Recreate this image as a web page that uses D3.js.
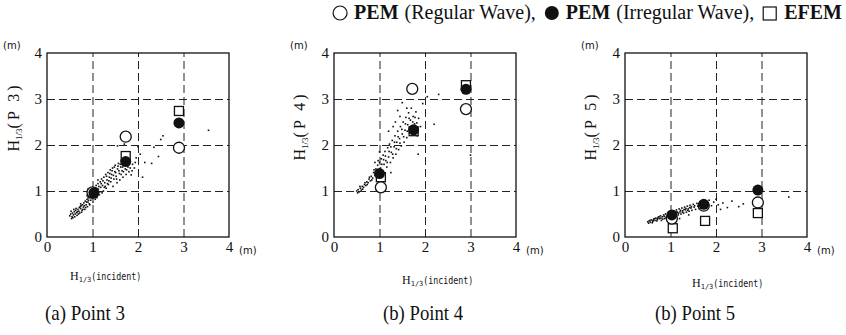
<!DOCTYPE html>
<html><head><meta charset="utf-8">
<script src="https://cdn.jsdelivr.net/npm/d3@7"></script>
<style>body{margin:0;background:#fff}svg{display:block}</style>
</head><body>
<svg id="c" width="846" height="335"></svg>
<script>
// ---------- data ----------
const tickValues = [0, 1, 2, 3, 4];
const tickLabels = ["0", "1", "2", "3", "4"];
const gridValues = [1, 2, 3];
const pointNames = ["P 3", "P 4", "P 5"];
const captions = ["(a) Point 3", "(b) Point 4", "(b) Point 5"];

// PEM regular wave (open circles)
const regularP3 = [[1.00, 0.97], [1.73, 2.18], [2.90, 1.94]];
const regularP4 = [[1.03, 1.08], [1.72, 3.22], [2.90, 2.78]];
const regularP5 = [[1.03, 0.40], [1.73, 0.68], [2.92, 0.75]];
// PEM irregular wave (filled circles)
const irregularP3 = [[1.03, 0.96], [1.73, 1.64], [2.90, 2.48]];
const irregularP4 = [[1.00, 1.38], [1.75, 2.33], [2.90, 3.21]];
const irregularP5 = [[1.03, 0.48], [1.73, 0.71], [2.92, 1.02]];
// EFEM (open squares)
const efemP3 = [[1.00, 0.95], [1.73, 1.76], [2.90, 2.74]];
const efemP4 = [[1.03, 1.30], [1.75, 2.30], [2.90, 3.30]];
const efemP5 = [[1.05, 0.19], [1.76, 0.35], [2.92, 0.52]];

// measured (individual irregular waves), small dots
const measuredP3 = [[0.50,0.46],[0.52,0.50],[0.55,0.44],[0.56,0.52],[0.58,0.48],[0.60,0.55],[0.62,0.50],[0.63,0.58],[0.65,0.53],[0.66,0.47],[0.68,0.60],[0.70,0.56],[0.71,0.64],[0.72,0.52],[0.74,0.62],[0.75,0.68],[0.77,0.58],[0.78,0.70],[0.80,0.65],[0.81,0.74],[0.83,0.60],[0.84,0.78],[0.86,0.70],[0.88,0.82],[0.89,0.66],[0.90,0.76],[0.92,0.86],[0.93,0.72],[0.95,0.90],[0.96,0.80],[0.98,0.94],[1.00,0.84],[1.02,1.00],[1.04,0.88],[1.05,1.06],[1.07,0.94],[1.08,1.12],[1.10,0.98],[1.12,1.16],[1.13,1.04],[1.15,0.92],[1.17,1.20],[1.18,1.08],[1.20,1.26],[1.22,1.12],[1.24,1.00],[1.25,1.30],[1.27,1.18],[1.29,1.36],[1.30,1.06],[1.32,1.24],[1.34,1.40],[1.35,1.14],[1.37,1.30],[1.39,1.46],[1.40,1.20],[1.42,1.36],[1.44,1.50],[1.45,1.10],[1.47,1.26],[1.49,1.42],[1.50,1.56],[1.52,1.32],[1.54,1.18],[1.55,1.48],[1.57,1.60],[1.59,1.38],[1.60,1.24],[1.62,1.52],[1.64,1.66],[1.65,1.44],[1.67,1.30],[1.69,1.58],[1.70,1.72],[1.72,1.48],[1.74,1.36],[1.76,1.62],[1.78,1.52],[1.80,1.42],[1.82,1.68],[1.85,1.35],[1.88,1.58],[1.92,1.50],[1.96,1.72],[2.00,1.96],[2.05,1.80],[2.10,1.30],[2.15,1.62],[2.30,1.60],[2.35,1.95],[2.45,1.75],[2.50,2.12],[2.55,2.20],[3.55,2.32],[1.70,2.02],[1.55,1.98],[0.54,0.40],[0.61,0.44],[0.69,0.50],[0.76,0.54],[0.85,0.64],[0.94,0.70],[1.06,0.82],[1.16,0.98],[1.28,1.10],[0.53,0.56],[0.57,0.42],[0.64,0.62],[0.67,0.55],[0.73,0.66],[0.79,0.60],[0.82,0.68],[0.87,0.76],[0.91,0.80],[0.97,0.86],[0.99,1.02],[1.03,0.92],[1.09,1.06],[1.11,0.90],[1.14,1.10],[1.19,1.16],[1.21,0.96],[1.23,1.22],[1.26,1.08],[1.31,1.32],[1.33,1.16],[1.36,1.22],[1.38,1.38],[1.41,1.28],[1.43,1.44],[1.46,1.34],[1.48,1.52],[1.51,1.40],[1.53,1.26],[1.56,1.54],[1.58,1.44],[1.61,1.58],[1.63,1.36],[1.66,1.52],[1.68,1.42],[1.71,1.56],[1.75,1.46],[1.79,1.60],[1.83,1.50],[1.87,1.44],[1.94,1.62],[0.59,0.60],[0.74,0.72],[0.88,0.90],[1.01,0.76],[1.12,1.24]];
const measuredP4 = [[0.50,1.00],[0.53,1.03],[0.55,0.98],[0.58,1.06],[0.60,1.02],[0.62,1.10],[0.65,1.08],[0.67,1.14],[0.70,1.12],[0.72,1.20],[0.75,1.18],[0.77,1.26],[0.80,1.22],[0.82,1.32],[0.85,1.28],[0.87,1.40],[0.90,1.34],[0.92,1.48],[0.94,1.30],[0.96,1.56],[0.98,1.42],[1.00,1.62],[1.02,1.50],[1.04,1.70],[1.06,1.44],[1.08,1.78],[1.10,1.58],[1.12,1.86],[1.14,1.66],[1.16,1.52],[1.18,1.94],[1.20,1.74],[1.22,2.02],[1.24,1.62],[1.26,1.84],[1.28,2.10],[1.30,1.72],[1.32,1.96],[1.34,2.20],[1.36,1.80],[1.38,2.06],[1.40,2.30],[1.42,1.90],[1.44,2.14],[1.46,2.40],[1.48,1.98],[1.50,2.24],[1.52,2.50],[1.54,2.06],[1.56,2.32],[1.58,2.60],[1.60,2.16],[1.62,2.44],[1.64,2.70],[1.66,2.26],[1.68,2.54],[1.70,2.80],[1.72,2.36],[1.74,2.62],[1.77,2.46],[1.80,2.72],[1.83,2.20],[1.86,2.58],[1.90,2.40],[1.95,2.90],[2.05,3.05],[1.50,2.92],[1.40,2.75],[1.20,2.30],[1.10,1.30],[1.25,1.40],[1.85,1.80],[2.20,2.45],[3.00,1.78],[2.30,3.10],[0.90,1.62],[1.00,1.85],[0.52,0.96],[0.57,1.10],[0.63,1.04],[0.68,1.18],[0.73,1.14],[0.78,1.30],[0.83,1.24],[0.88,1.46],[0.93,1.38],[0.97,1.66],[1.01,1.40],[1.05,1.58],[1.09,1.68],[1.13,1.76],[1.17,1.62],[1.21,1.86],[1.25,1.96],[1.29,1.80],[1.33,2.06],[1.37,1.92],[1.41,2.18],[1.45,2.04],[1.49,2.34],[1.53,2.18],[1.57,2.46],[1.61,2.30],[1.65,2.58],[1.69,2.40],[1.73,2.50],[1.78,2.60],[1.82,2.48],[1.35,2.50],[1.45,2.62],[1.60,2.80],[1.30,2.40]];
const measuredP5 = [[0.50,0.33],[0.53,0.35],[0.56,0.32],[0.58,0.37],[0.61,0.34],[0.63,0.39],[0.66,0.36],[0.68,0.41],[0.71,0.38],[0.73,0.43],[0.76,0.40],[0.78,0.46],[0.80,0.36],[0.82,0.44],[0.85,0.48],[0.87,0.40],[0.89,0.50],[0.91,0.45],[0.93,0.38],[0.95,0.52],[0.97,0.46],[0.99,0.41],[1.01,0.55],[1.03,0.49],[1.05,0.43],[1.07,0.57],[1.09,0.51],[1.11,0.45],[1.13,0.59],[1.15,0.53],[1.17,0.48],[1.19,0.61],[1.21,0.55],[1.23,0.50],[1.25,0.63],[1.27,0.57],[1.29,0.52],[1.31,0.65],[1.33,0.59],[1.35,0.54],[1.37,0.67],[1.39,0.61],[1.41,0.56],[1.43,0.69],[1.45,0.63],[1.47,0.58],[1.50,0.71],[1.52,0.65],[1.55,0.60],[1.58,0.73],[1.60,0.67],[1.63,0.62],[1.66,0.75],[1.69,0.69],[1.72,0.64],[1.76,0.77],[1.80,0.70],[1.85,0.80],[1.90,0.68],[1.95,0.76],[2.00,0.82],[2.05,0.70],[2.15,0.74],[2.25,0.64],[2.35,0.78],[2.50,0.66],[2.60,0.72],[3.60,0.87],[1.20,0.40],[1.40,0.48],[2.10,0.60],[0.52,0.30],[0.55,0.36],[0.60,0.31],[0.62,0.36],[0.65,0.40],[0.70,0.35],[0.72,0.40],[0.75,0.44],[0.79,0.41],[0.83,0.39],[0.86,0.45],[0.90,0.42],[0.94,0.47],[0.98,0.50],[1.02,0.44],[1.06,0.52],[1.10,0.48],[1.14,0.55],[1.18,0.52],[1.22,0.58],[1.26,0.54],[1.30,0.60],[1.34,0.62],[1.38,0.58],[1.42,0.64],[1.46,0.66],[1.53,0.68],[1.62,0.70],[1.70,0.72]];

const legendSymbols = ["open", "filled", "square"];
const legendBold = ["PEM", "PEM", "EFEM"];
const legendNotes = ["(Regular Wave),", "(Irregular Wave),", ""];

// ---------- layout ----------
const panelData = [
  {name: pointNames[0], caption: captions[0], reg: regularP3, irr: irregularP3, efem: efemP3, dots: measuredP3},
  {name: pointNames[1], caption: captions[1], reg: regularP4, irr: irregularP4, efem: efemP4, dots: measuredP4},
  {name: pointNames[2], caption: captions[2], reg: regularP5, irr: irregularP5, efem: efemP5, dots: measuredP5}
];
const layout = [
  {left: 47,  ytx: 19,  yty: 117, xtx: 70,  xty: 280, capx: 45},
  {left: 334, ytx: 305, yty: 126, xtx: 402, xty: 284, capx: 383},
  {left: 625, ytx: 596, yty: 126, xtx: 692, xty: 287, capx: 655}
];
const W = 182, TOP = 53, BOT = 237;
const serif = "'Liberation Serif','DejaVu Serif',serif";
const svg = d3.select("#c");

panelData.forEach((p, i) => {
  const L = layout[i];
  const x = d3.scaleLinear().domain([0, 4]).range([L.left, L.left + W]);
  const y = d3.scaleLinear().domain([0, 4]).range([BOT, TOP]);
  const g = svg.append("g");

  // grid
  g.append("g").attr("transform", `translate(0,${BOT})`)
    .call(d3.axisBottom(x).tickValues(gridValues).tickSize(-(BOT - TOP)).tickFormat(""))
    .call(s => s.select(".domain").remove())
    .call(s => s.selectAll("line").attr("stroke", "#222").attr("stroke-width", 1).attr("stroke-dasharray", "8,4"));
  g.append("g").attr("transform", `translate(${L.left},0)`)
    .call(d3.axisLeft(y).tickValues(gridValues).tickSize(-W).tickFormat(""))
    .call(s => s.select(".domain").remove())
    .call(s => s.selectAll("line").attr("stroke", "#222").attr("stroke-width", 1).attr("stroke-dasharray", "8,4"));

  // tick labels
  g.append("g").attr("transform", `translate(0,${BOT})`)
    .call(d3.axisBottom(x).tickValues(tickValues).tickSize(0).tickPadding(4).tickFormat((d, k) => tickLabels[k]))
    .call(s => s.select(".domain").remove())
    .call(s => s.selectAll("text").attr("font-family", serif).attr("font-size", 15).attr("fill", "#111"));
  g.append("g").attr("transform", `translate(${L.left},0)`)
    .call(d3.axisLeft(y).tickValues(tickValues).tickSize(0).tickPadding(5).tickFormat((d, k) => tickLabels[k]))
    .call(s => s.select(".domain").remove())
    .call(s => s.selectAll("text").attr("font-family", serif).attr("font-size", 15).attr("fill", "#111"));

  // frame
  g.append("rect").attr("x", x(0)).attr("y", y(4)).attr("width", x(4) - x(0)).attr("height", y(0) - y(4))
    .attr("fill", "none").attr("stroke", "#111").attr("stroke-width", 1.3);

  // unit labels
  g.append("text").attr("x", x(0) - 44).attr("y", y(4) - 4).attr("font-family", "'DejaVu Sans',sans-serif")
    .attr("font-size", 10).attr("fill", "#111").text("(m)");
  g.append("text").attr("x", x(4) + 10).attr("y", BOT + 17).attr("font-family", "'DejaVu Sans',sans-serif")
    .attr("font-size", 10).attr("fill", "#111").text("(m)");

  // dots
  g.append("g").selectAll("rect").data(p.dots).join("rect")
    .attr("x", d => x(d[0]) - 0.8).attr("y", d => y(d[1]) - 0.8).attr("width", 1.6).attr("height", 1.6).attr("fill", "#111");

  // markers
  const s = 9;
  g.append("g").selectAll("rect").data(p.efem).join("rect")
    .attr("x", d => x(d[0]) - s / 2).attr("y", d => y(d[1]) - s / 2).attr("width", s).attr("height", s)
    .attr("fill", "#fff").attr("stroke", "#111").attr("stroke-width", 1.3);
  g.append("g").selectAll("circle").data(p.reg).join("circle")
    .attr("cx", d => x(d[0])).attr("cy", d => y(d[1])).attr("r", 5.5)
    .attr("fill", "#fff").attr("stroke", "#111").attr("stroke-width", 1.3);
  g.append("g").selectAll("circle").data(p.irr).join("circle")
    .attr("cx", d => x(d[0])).attr("cy", d => y(d[1])).attr("r", 5.5).attr("fill", "#111");

  // y title (rotated)
  const yt = g.append("text").attr("transform", `translate(${L.ytx},${L.yty}) rotate(-90)`)
    .attr("text-anchor", "middle").attr("font-family", serif).attr("font-size", 16).attr("fill", "#111");
  yt.append("tspan").text("H");
  yt.append("tspan").attr("font-size", 9).attr("dy", 3).text("1/3");
  yt.append("tspan").attr("dy", -3).attr("letter-spacing", 3).text("(" + p.name + ")");

  // x title
  const xt = g.append("text").attr("x", L.xtx).attr("y", L.xty).attr("fill", "#111");
  xt.append("tspan").attr("font-family", serif).attr("font-size", 12).text("H");
  xt.append("tspan").attr("font-family", "'DejaVu Sans Mono',monospace").attr("font-size", 7).attr("dy", 2).text("1/3");
  xt.append("tspan").attr("font-family", "'DejaVu Sans Mono',monospace").attr("font-size", 11).attr("dy", -2)
    .attr("textLength", 50).attr("lengthAdjust", "spacingAndGlyphs").text("(incident)");

  // caption
  g.append("text").attr("x", L.capx).attr("y", 320).attr("font-family", serif).attr("font-size", 22)
    .attr("textLength", 80).attr("lengthAdjust", "spacingAndGlyphs").attr("fill", "#111").text(p.caption);
});

// ---------- legend (flow layout, right-aligned) ----------
const lg = svg.append("g").attr("font-family", serif).attr("font-size", 20).attr("fill", "#111");
let cx = 0;
const items = [];
legendSymbols.forEach((sym, k) => {
  if (sym === "open") items.push(lg.append("circle").attr("cx", cx + 7).attr("cy", 13).attr("r", 7)
    .attr("fill", "#fff").attr("stroke", "#111").attr("stroke-width", 1.2));
  else if (sym === "filled") items.push(lg.append("circle").attr("cx", cx + 7).attr("cy", 13).attr("r", 7).attr("fill", "#111"));
  else items.push(lg.append("rect").attr("x", cx).attr("y", 7).attr("width", 13).attr("height", 13)
    .attr("fill", "#fff").attr("stroke", "#111").attr("stroke-width", 1.2));
  cx += 14 + 7;
  const b = lg.append("text").attr("x", cx).attr("y", 19).attr("font-weight", "bold").text(legendBold[k]);
  cx += b.node().getComputedTextLength() + 6;
  if (legendNotes[k]) {
    const t = lg.append("text").attr("x", cx).attr("y", 19).text(legendNotes[k]);
    cx += t.node().getComputedTextLength() + 9;
  }
});
lg.attr("transform", `translate(${842 - (cx - 6)},0)`);
</script>
</body></html>
